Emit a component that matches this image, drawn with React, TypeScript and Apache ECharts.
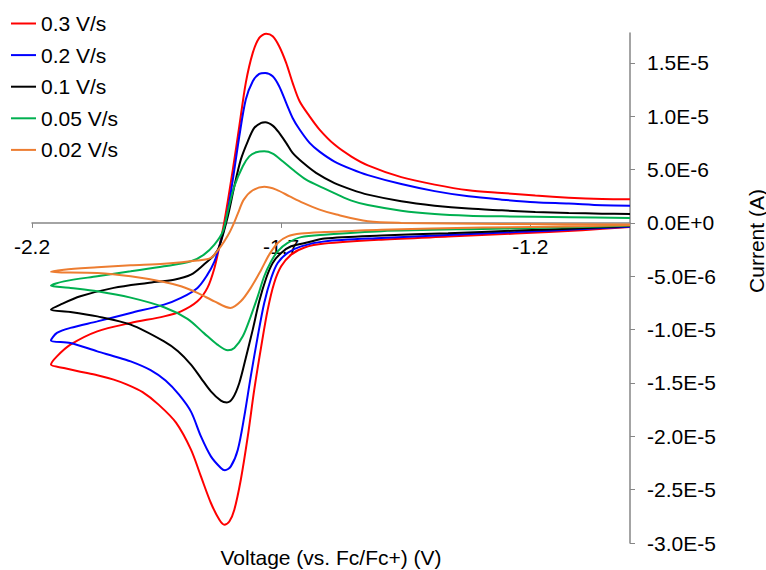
import React, { useEffect, useRef } from "react";
import * as echarts from "echarts";

// Voltage (V) vs current (µA); each loop: forward sweep (right → left) then reverse sweep
const RATE_03: [number, number][] = [
  [-1.0, -0.38], [-1.096, -0.68], [-1.23, -1.0], [-1.365, -1.28], [-1.499, -1.57], [-1.613, -1.94],
  [-1.653, -2.3], [-1.68, -2.97], [-1.7, -4.07], [-1.714, -5.63], [-1.727, -8.13], [-1.74, -11.57],
  [-1.754, -15.63], [-1.767, -20.01], [-1.781, -24.07], [-1.794, -26.88], [-1.804, -27.98],
  [-1.814, -28.28], [-1.824, -27.82], [-1.841, -26.25], [-1.861, -23.76], [-1.881, -21.25],
  [-1.911, -18.72], [-1.946, -17.03], [-1.978, -15.86], [-2.009, -15.16], [-2.036, -14.69],
  [-2.069, -14.27], [-2.103, -13.94], [-2.136, -13.59], [-2.162, -13.28],
  [-2.15, -12.51], [-2.123, -11.41], [-2.069, -10.16], [-2.002, -9.38], [-1.935, -8.76], [-1.901, -8.29],
  [-1.868, -7.35], [-1.848, -6.09], [-1.834, -4.24], [-1.824, -2.19], [-1.814, 0.12], [-1.797, 5.0],
  [-1.784, 9.06], [-1.771, 13.13], [-1.757, 15.94], [-1.744, 17.34], [-1.73, 17.72], [-1.717, 17.49],
  [-1.704, 16.56], [-1.69, 15.0], [-1.677, 13.13], [-1.663, 11.4], [-1.643, 9.99], [-1.623, 8.75],
  [-1.593, 7.34], [-1.559, 6.22], [-1.526, 5.4], [-1.459, 4.29], [-1.392, 3.59], [-1.324, 3.06],
  [-1.257, 2.81], [-1.19, 2.56], [-1.123, 2.37], [-1.056, 2.25], [-1.0, 2.22],
];

const RATE_02: [number, number][] = [
  [-1.0, -0.35], [-1.096, -0.58], [-1.23, -0.86], [-1.365, -1.13], [-1.499, -1.41], [-1.613, -1.73],
  [-1.66, -2.2], [-1.687, -2.81], [-1.707, -3.75], [-1.72, -5.16], [-1.734, -7.5], [-1.747, -10.63],
  [-1.761, -14.38], [-1.774, -18.13], [-1.787, -21.25], [-1.801, -22.82], [-1.813, -23.19],
  [-1.821, -22.97], [-1.841, -21.88], [-1.861, -20.01], [-1.881, -17.69], [-1.905, -16.1],
  [-1.932, -14.78], [-1.962, -13.8], [-2.002, -12.98], [-2.036, -12.49], [-2.069, -12.04],
  [-2.123, -11.25], [-2.162, -11.01],
  [-2.15, -10.31], [-2.123, -9.84], [-2.069, -9.23], [-2.002, -8.44], [-1.935, -7.66], [-1.901, -7.03],
  [-1.868, -6.09], [-1.848, -4.85], [-1.834, -3.63], [-1.824, -2.19], [-1.811, 0.12], [-1.797, 4.06],
  [-1.784, 8.12], [-1.771, 11.56], [-1.757, 13.28], [-1.744, 13.97], [-1.732, 14.06], [-1.717, 13.74],
  [-1.704, 12.81], [-1.69, 11.25], [-1.677, 9.84], [-1.663, 8.75], [-1.643, 7.5], [-1.623, 6.68],
  [-1.593, 5.75], [-1.559, 5.04], [-1.526, 4.48], [-1.459, 3.64], [-1.392, 2.98], [-1.324, 2.49],
  [-1.257, 2.18], [-1.19, 1.93], [-1.123, 1.81], [-1.056, 1.65], [-1.0, 1.62],
];

const RATE_01: [number, number][] = [
  [-1.0, -0.3], [-1.096, -0.49], [-1.23, -0.72], [-1.365, -0.96], [-1.499, -1.19], [-1.613, -1.47],
  [-1.646, -1.82], [-1.68, -2.19], [-1.7, -2.81], [-1.717, -3.75], [-1.73, -5.16], [-1.744, -7.35],
  [-1.757, -10.0], [-1.771, -12.66], [-1.784, -15.0], [-1.797, -16.41], [-1.809, -16.82],
  [-1.821, -16.66], [-1.841, -15.79], [-1.861, -14.54], [-1.881, -13.28], [-1.907, -12.03],
  [-1.935, -11.1], [-2.002, -9.53], [-2.069, -8.76], [-2.123, -8.34], [-2.162, -8.13],
  [-2.143, -7.66], [-2.103, -6.88], [-2.036, -6.09], [-1.968, -5.63], [-1.915, -5.32], [-1.881, -4.85],
  [-1.855, -3.9], [-1.834, -3.0], [-1.824, -2.19], [-1.807, 0.62], [-1.794, 3.43], [-1.781, 5.93],
  [-1.767, 7.65], [-1.754, 8.91], [-1.74, 9.38], [-1.732, 9.43], [-1.717, 9.12], [-1.704, 8.44],
  [-1.69, 7.5], [-1.677, 6.56], [-1.656, 5.63], [-1.63, 4.69], [-1.593, 3.73], [-1.559, 3.12],
  [-1.526, 2.65], [-1.459, 2.03], [-1.392, 1.62], [-1.324, 1.34], [-1.257, 1.18], [-1.19, 1.03],
  [-1.123, 0.94], [-1.056, 0.87], [-1.0, 0.84],
];

const RATE_005: [number, number][] = [
  [-1.0, -0.25], [-1.096, -0.39], [-1.297, -0.56], [-1.499, -0.77], [-1.613, -1.1], [-1.66, -1.33],
  [-1.687, -1.88], [-1.707, -2.66], [-1.72, -3.6], [-1.734, -5.0], [-1.747, -6.88], [-1.761, -8.76],
  [-1.777, -10.63], [-1.794, -11.72], [-1.807, -11.94], [-1.828, -11.41], [-1.855, -10.33],
  [-1.888, -8.99], [-1.935, -7.9], [-2.002, -7.0], [-2.069, -6.4], [-2.123, -6.09], [-2.162, -5.88],
  [-2.136, -5.48], [-2.069, -5.0], [-2.002, -4.54], [-1.935, -4.07], [-1.881, -3.6], [-1.855, -2.97],
  [-1.834, -2.03], [-1.817, -0.79], [-1.807, 1.09], [-1.794, 3.43], [-1.777, 5.31], [-1.764, 6.24],
  [-1.75, 6.62], [-1.734, 6.71], [-1.717, 6.5], [-1.697, 5.78], [-1.677, 5.0], [-1.65, 4.06],
  [-1.616, 3.28], [-1.589, 2.7], [-1.559, 2.09], [-1.526, 1.67], [-1.459, 1.15], [-1.392, 0.84],
  [-1.324, 0.68], [-1.257, 0.62], [-1.123, 0.53], [-1.0, 0.47],
];

const RATE_002: [number, number][] = [
  [-1.0, -0.21], [-1.096, -0.32], [-1.297, -0.44], [-1.499, -0.63], [-1.613, -0.86], [-1.66, -1.0],
  [-1.687, -1.26], [-1.707, -1.88], [-1.724, -2.97], [-1.74, -4.38], [-1.761, -6.09], [-1.781, -7.35],
  [-1.802, -7.97], [-1.834, -7.35], [-1.868, -6.56], [-1.901, -5.94], [-1.935, -5.53], [-2.002, -5.0],
  [-2.069, -4.69], [-2.162, -4.59],
  [-2.136, -4.38], [-2.069, -4.16], [-2.002, -3.97], [-1.935, -3.82], [-1.868, -3.53], [-1.841, -3.28],
  [-1.821, -2.19], [-1.807, -1.19], [-1.797, -0.25], [-1.787, 0.87], [-1.775, 2.18], [-1.757, 3.06],
  [-1.734, 3.38], [-1.71, 3.12], [-1.683, 2.49], [-1.656, 1.88], [-1.623, 1.25], [-1.589, 0.78],
  [-1.526, 0.15], [-1.459, 0.0], [-1.257, -0.09], [-1.0, -0.14],
];

const SERIES_NAMES = ["0.3 V/s", "0.2 V/s", "0.1 V/s", "0.05 V/s", "0.02 V/s"];
const SERIES_DATA = [RATE_03, RATE_02, RATE_01, RATE_005, RATE_002];
const SERIES_COLORS = ["#FF0000", "#0000FF", "#000000", "#00B050", "#ED7D31"];

const X_MIN = -2.2;
const X_MAX = -1.0;
const Y_MIN = -3.0e-5;
const Y_MAX = 1.78e-5;
const X_TICKS = [-2.2, -1.7, -1.2];
const Y_TICKS = [-3.0e-5, -2.5e-5, -2.0e-5, -1.5e-5, -1.0e-5, -5.0e-6, 0, 5.0e-6, 1.0e-5, 1.5e-5];
const MICRO = 1e-6;

const FONT = '"Liberation Sans", Arial, sans-serif';
const AXIS_GRAY = "#868686";

const GRID_TOP = 33;
const GRID_BOTTOM = 27;
const CHART_H = 570;

export default function App() {
  const ref = useRef<HTMLDivElement>(null);

  useEffect(() => {
    if (!ref.current) return;
    const chart = echarts.init(ref.current, undefined, { renderer: "svg" });
    const gridH = CHART_H - GRID_TOP - GRID_BOTTOM;
    // place the x axis (line, ticks and labels) where current = 0
    const zeroOffset = (gridH * (0 - Y_MIN)) / (Y_MAX - Y_MIN);
    const option: any = {
      animation: false,
      backgroundColor: "#ffffff",
      textStyle: { fontFamily: FONT },
      grid: { left: 32, right: 136, top: GRID_TOP, bottom: GRID_BOTTOM, containLabel: false, outerBoundsMode: "none" },
      legend: {
        data: SERIES_NAMES,
        orient: "vertical",
        left: 11,
        top: 13,
        padding: 0,
        icon: "rect",
        itemWidth: 25,
        itemHeight: 2,
        itemGap: 10.6,
        textStyle: { fontSize: 21, lineHeight: 21, color: "#000", fontFamily: FONT },
      },
      xAxis: {
        type: "value",
        position: "bottom",
        offset: -zeroOffset,
        min: X_MIN,
        max: X_MAX,
        axisLine: { show: true, onZero: false, lineStyle: { color: AXIS_GRAY, width: 1.5 } },
        axisTick: { show: true, length: 5, customValues: X_TICKS, lineStyle: { color: AXIS_GRAY, width: 1 } },
        axisLabel: {
          customValues: X_TICKS,
          fontSize: 21,
          color: "#000",
          fontFamily: FONT,
          margin: 13,
          formatter: (v: number) => v.toFixed(1),
        },
        splitLine: { show: false },
      },
      yAxis: {
        type: "value",
        position: "right",
        min: Y_MIN,
        max: Y_MAX,
        axisLine: { show: true, onZero: false, lineStyle: { color: AXIS_GRAY, width: 1.5 } },
        axisTick: { show: true, length: 5, customValues: Y_TICKS, lineStyle: { color: AXIS_GRAY, width: 1 } },
        axisLabel: {
          customValues: Y_TICKS,
          fontSize: 21,
          color: "#000",
          fontFamily: FONT,
          margin: 17,
          formatter: (v: number) => (Math.abs(v) < 1e-12 ? "0.0E+0" : v.toExponential(1).toUpperCase()),
        },
        splitLine: { show: false },
      },
      graphic: [
        {
          type: "text",
          x: 331,
          y: 557,
          style: {
            text: "Voltage (vs. Fc/Fc+) (V)",
            font: `21px ${FONT}`,
            fill: "#000",
            align: "center",
            verticalAlign: "middle",
          },
        },
        {
          type: "text",
          x: 756,
          y: 241,
          rotation: Math.PI / 2,
          style: {
            text: "Current (A)",
            font: `21px ${FONT}`,
            fill: "#000",
            align: "center",
            verticalAlign: "middle",
          },
        },
      ],
      series: SERIES_DATA.map((d, idx) => ({
        name: SERIES_NAMES[idx],
        type: "line",
        symbol: "none",
        showSymbol: false,
        smooth: 0.3,
        color: SERIES_COLORS[idx],
        itemStyle: { color: SERIES_COLORS[idx] },
        lineStyle: { color: SERIES_COLORS[idx], width: 2 },
        data: d.map(([v, i]) => [v, i * MICRO]),
      })),
    };
    chart.setOption(option);
    return () => chart.dispose();
  }, []);

  return (
    <div
      ref={ref}
      style={{ position: "fixed", left: 0, top: 0, width: 766, height: 570, background: "#fff" }}
    />
  );
}
